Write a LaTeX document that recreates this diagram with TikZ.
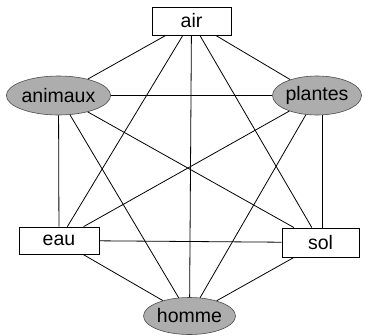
\documentclass[tikz,border=0pt]{standalone}
\usepackage{fontspec}
\setmainfont{Liberation Sans}
\usetikzlibrary{shapes.geometric}
\definecolor{ellfill}{gray}{0.68}
\begin{document}
\begin{tikzpicture}[x=1pt,y=-1pt,
  boxnode/.style={draw=black,fill=white,line width=0.8pt,minimum width=79pt,minimum height=28pt,inner sep=0pt,font=\fontsize{19.5}{22}\selectfont},
  ellnode/.style={ellipse,draw=black!70,fill=ellfill,line width=0.6pt,minimum width=92pt,minimum height=39pt,inner sep=0pt,font=\fontsize{19.5}{22}\selectfont},
  link/.style={line width=0.8pt}]
\useasboundingbox (0,0) rectangle (369,335);
\node[boxnode] (air) at (191.5,21) {air};
\node[ellnode] (animaux) at (58.5,95.5) {animaux};
\node[ellnode,minimum width=89pt] (plantes) at (317,95.5) {plantes};
\node[boxnode,minimum width=80pt,minimum height=27pt] (eau) at (59,240.5) {eau};
\node[boxnode,minimum width=77pt,minimum height=29pt] (sol) at (320.5,242.5) {sol};
\node[ellnode,minimum width=92pt,minimum height=37pt] (homme) at (189.5,316) {homme};
\coordinate (ps) at ([xshift=1.5pt]sol.north);
\foreach \a/\b in {air/animaux,air/plantes,air/eau,air/sol,air/homme,
  animaux/plantes,animaux/eau,animaux/sol,animaux/homme,
  plantes/eau,plantes/homme,
  eau/sol,eau/homme,sol/homme}
  \draw[link] (\a) -- (\b);
\draw[link] (ps) -- (ps |- plantes.south);
\end{tikzpicture}
\end{document}
